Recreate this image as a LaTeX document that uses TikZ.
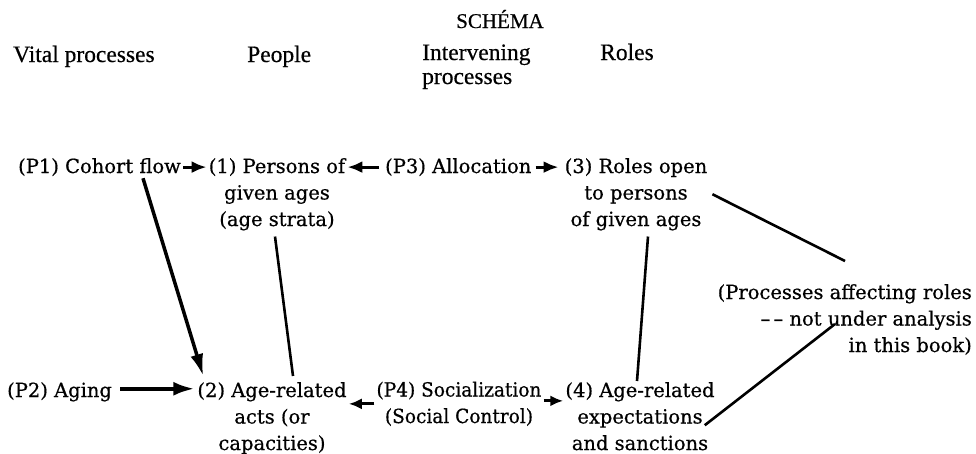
\documentclass[tikz,border=0pt]{standalone}
\usepackage{fontspec}
\usetikzlibrary{arrows.meta,calc}
\newfontfamily\bodyfont[FakeBold=0.6]{DejaVu Serif}
\newfontfamily\bodynarrow[FakeBold=0.6,FakeStretch=0.95]{DejaVu Serif}
\newfontfamily\headfont[FakeBold=0.5]{Liberation Serif}
\begin{document}
\begin{tikzpicture}[x=1pt,y=-1pt,
  txt/.style={inner sep=0pt,inner xsep=2pt,align=center,font={\bodyfont\fontsize{19.5}{26.5}\selectfont}},
  hd/.style={inner sep=0pt,align=left,font={\headfont\fontsize{23.5}{24}\selectfont}},
  arr/.style={line width=3pt,-{Latex[length=15pt,width=12pt]}},
  shortarr/.style={line width=3pt,-{Latex[length=13pt,width=11pt]}},
  bigarr/.style={line width=4.5pt,-{Latex[length=22pt,width=14pt]}},
  link/.style={line width=2.6pt}]
\useasboundingbox (0,0) rectangle (976,453);
% headers (base anchor = baseline of the last line)
\node[hd,anchor=base,font={\headfont\fontsize{21}{22}\selectfont}] (sch) at (500,28) {SCHÉMA};
\node[hd,anchor=base west] (h1) at (13,62) {Vital processes};
\node[hd,anchor=base west] (h2) at (247,62) {People};
\node[hd,anchor=base west] (h3) at (422,84) {Intervening\\processes};
\node[hd,anchor=base west] (h4) at (600,60) {Roles};
% row 1
\node[txt,anchor=base west] (p1) at (16,173) {(P1) Cohort flow};
\node[txt,anchor=base] (n1) at (277,226) {(1) Persons of\\given ages\\(age strata)};
\node[txt,anchor=base west] (p3) at (383,173) {(P3) Allocation};
\node[txt,anchor=base] (n3) at (636,226) {(3) Roles open\\to persons\\of given ages};
\node[txt,anchor=base east,align=right] (r) at (974,352) {(Processes affecting roles\\–\,– not under analysis\\in this book)};
% row 2
\node[txt,anchor=base west] (p2) at (5,397) {(P2) Aging};
\node[txt,anchor=base] (n2) at (272,450) {(2) Age-related\\acts (or\\capacities)};
\node[txt,anchor=base,font={\bodynarrow\fontsize{19.5}{26.5}\selectfont}] (p4) at (459,423) {(P4) Socialization\\(Social Control)};
\node[txt,anchor=base] (n4) at (640,450) {(4) Age-related\\expectations\\and sanctions};
% arrows
\draw[arr] (p1.east) -- (p1.east -| n1.west);
\draw[arr,shorten <=4pt] (p3.west) -- (p3.west -| n1.east);
\draw[arr,shorten <=2pt,shorten >=4pt] (p3.east) -- (p3.east -| n3.west);
\draw[bigarr,shorten <=6pt] ([yshift=3pt]p2.east) -- ([yshift=3pt]p2.east -| n2.west);
\draw[shortarr] (p4.west) -- (p4.west -| n2.east);
\draw[shortarr] ([yshift=3pt]p4.east) -- ([yshift=3pt]p4.east -| n4.west);
\draw[line width=3.5pt,-{Latex[length=22pt,width=13pt]}] ($(p1.south west)!0.76!(p1.south east)+(0,2)$) -- ($(n2.north west)+(8,-6)$);
\draw[link] ($(n1.south)+(-2,6)$) -- ($(n2.north)+(21,-6)$);
\draw[link] ($(n3.south)+(12,6)$) -- ($(n4.north)+(-3,-1)$);
\draw[link] ($(n3.east)+(3,0)$) -- ($(r.north east)+(-129,-23)$);
\draw[link] ($(n4.east)+(-12,9)$) -- ($(r.north east)+(-139,40)$);
\end{tikzpicture}
\end{document}
